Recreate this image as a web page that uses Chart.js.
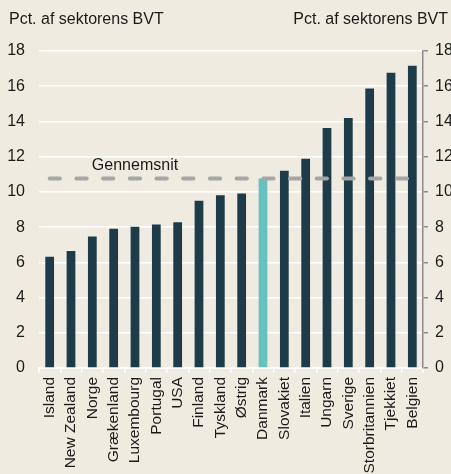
<!DOCTYPE html>
<html>
<head>
<meta charset="utf-8">
<script src="https://cdn.jsdelivr.net/npm/chart.js@4.4.1/dist/chart.umd.min.js"></script>
<style>
  html, body { margin: 0; padding: 0; background: #f0ebe0; }
  #wrap { width: 451px; height: 474px; position: relative; }
</style>
</head>
<body>
<div id="wrap"><canvas id="c" width="451" height="474"></canvas></div>
<script>
const categories = ["Island","New Zealand","Norge","Grækenland","Luxembourg","Portugal","USA","Finland","Tyskland","Østrig","Danmark","Slovakiet","Italien","Ungarn","Sverige","Storbritannien","Tjekkiet","Belgien"];
const values = [6.32, 6.64, 7.47, 7.9, 8.02, 8.15, 8.28, 9.49, 9.81, 9.91, 10.76, 11.2, 11.88, 13.63, 14.2, 15.87, 16.76, 17.16];
const averageValue = 10.76;
const averageLabel = "Gennemsnit";
const axisTitle = "Pct. af sektorens BVT";
const highlight = "Danmark";

const FONT = "'Liberation Sans', Arial, sans-serif";
const TEXT = "#1a1a1a";
const DARK = "#1d3b48";
const LIGHT = "#66c2bf";

const annotations = {
  id: 'annotations',
  afterDatasetsDraw(chart) {
    const ctx = chart.ctx;
    const ca = chart.chartArea;
    const y = chart.scales.y.getPixelForValue(averageValue);
    ctx.save();
    ctx.fillStyle = TEXT;
    ctx.font = "16px " + FONT;
    ctx.textBaseline = 'alphabetic';
    ctx.textAlign = 'center';
    ctx.fillText(averageLabel, ca.left + (ca.right - ca.left) * 0.25, y - 9);
    ctx.textBaseline = 'middle';
    ctx.textAlign = 'left';
    ctx.fillText(axisTitle, 9, 20);
    ctx.textAlign = 'right';
    ctx.fillText(axisTitle, 448, 20);
    ctx.restore();
  }
};

new Chart(document.getElementById('c'), {
  type: 'bar',
  data: {
    labels: categories,
    datasets: [
      {
        type: 'line',
        data: categories.map(() => averageValue),
        borderColor: '#a6a6a6',
        borderWidth: 4,
        borderDash: [10.3, 16.4],
        borderCapStyle: 'round',
        pointRadius: 0,
        fill: false,
        order: 0,
        yAxisID: 'y'
      },
      {
        type: 'bar',
        data: values,
        backgroundColor: categories.map(c => c === highlight ? LIGHT : DARK),
        categoryPercentage: 1,
        barPercentage: 0.41,
        order: 1,
        yAxisID: 'y'
      }
    ]
  },
  options: {
    responsive: false,
    animation: false,
    layout: { padding: { top: 51, bottom: 0, left: 0, right: 0 } },
    plugins: { legend: { display: false }, tooltip: { enabled: false } },
    scales: {
      x: {
        offset: true,
        grid: { display: true, drawOnChartArea: false, color: '#ffffff', lineWidth: 1.5, tickLength: 5, offset: true },
        border: { display: true, color: '#ffffff', width: 1.5 },
        ticks: { autoSkip: false, minRotation: 90, maxRotation: 90, padding: 4, color: TEXT, font: { family: FONT, size: 15.5 } },
        afterFit(scale) { scale.height = 106; }
      },
      y: {
        position: 'left',
        min: 0, max: 18,
        ticks: { stepSize: 2, padding: 14, color: TEXT, font: { family: FONT, size: 16 } },
        grid: { color: '#ffffff', lineWidth: 1.5, drawTicks: false },
        border: { display: false },
        afterFit(scale) { scale.width = 39; }
      },
      y2: {
        position: 'right',
        display: true,
        min: 0, max: 18,
        ticks: { stepSize: 2, padding: 7, color: TEXT, font: { family: FONT, size: 16 } },
        grid: { drawOnChartArea: false, color: '#8c8c8c', lineWidth: 1.5, tickLength: 5 },
        border: { display: true, color: '#8c8c8c', width: 1.5 },
        afterFit(scale) { scale.width = 28; }
      }
    }
  },
  plugins: [annotations]
});
</script>
</body>
</html>
